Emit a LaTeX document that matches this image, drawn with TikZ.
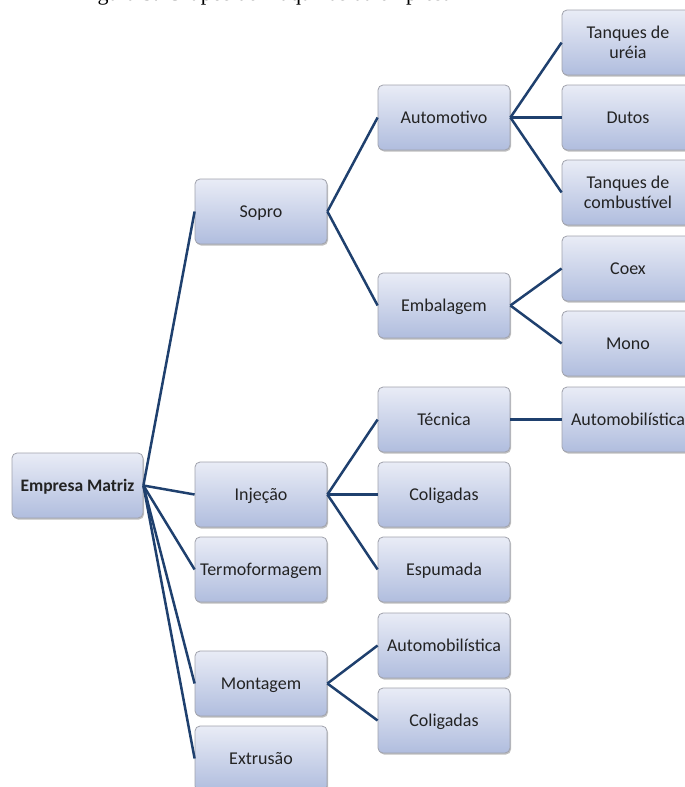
\documentclass[tikz,border=0pt]{standalone}
\usepackage{fontspec}
\setmainfont{Carlito}
\newfontfamily\capfont{Liberation Serif}
\usetikzlibrary{shadows}
\definecolor{linec}{RGB}{31,64,110}
\definecolor{boxtop}{RGB}{233,236,246}
\definecolor{boxbot}{RGB}{176,189,222}
\definecolor{boxdraw}{RGB}{160,162,172}
\definecolor{txt}{RGB}{35,35,35}
\begin{document}
\begin{tikzpicture}[x=1pt,y=-1pt,
  basebox/.style={rectangle, rounded corners=5pt, draw=boxdraw, line width=0.8pt,
    top color=boxtop, bottom color=boxbot, minimum width=132pt, minimum height=65pt,
    inner sep=0pt, align=center, text=txt, font=\fontsize{18}{20.5}\selectfont,
    drop shadow={shadow xshift=1pt, shadow yshift=-1.5pt, opacity=0.25, fill=black}},
  box/.style={basebox, text height=15pt, text depth=4pt},
  link/.style={draw=linec, line width=2.5pt}]
\useasboundingbox (0,0) rectangle (685,787);
\clip (0,0) rectangle (685,787);
\node[anchor=base west, inner sep=0pt, font=\capfont\fontsize{22}{26}\selectfont] (cap) at (79,0.8) {Figura 5: Grupos de máquinas da empresa};
% root
\node[box, font=\bfseries\fontsize{17.5}{21}\selectfont, minimum width=131pt] (em) at (77.5,485.5) {Empresa Matriz};
% level 1
\node[box] (sopro) at (261,211.5) {Sopro};
\node[box] (inj) at (261,494.5) {Injeção};
\node[box] (termo) at (261,569.5) {Termoformagem};
\node[box] (mont) at (261,683.5) {Montagem};
\node[box] (extr) at (261,758.5) {Extrusão};
% level 2
\node[box] (auto) at (444,117.5) {Automotivo};
\node[box] (emb) at (444,305.5) {Embalagem};
\node[box] (tec) at (444,419.5) {Técnica};
\node[box] (col1) at (444,494.5) {Coligadas};
\node[box] (esp) at (444,569.5) {Espumada};
\node[box] (autom) at (444,645.5) {Automobilística};
\node[box] (col2) at (444,720.5) {Coligadas};
% level 3
\node[basebox] (ure) at (628,42.5) {Tanques de\\uréia};
\node[box] (dut) at (628,117.5) {Dutos};
\node[basebox] (comb) at (628,192.5) {Tanques de\\combustível};
\node[box] (coex) at (628,268.5) {Coex};
\node[box] (mono) at (628,343.5) {Mono};
\node[box] (autom3) at (628,419.5) {Automobilística};
% connectors
\foreach \c in {sopro,inj,termo,mont,extr} \draw[link] (em.east) -- (\c.west);
\foreach \c in {auto,emb} \draw[link] (sopro.east) -- (\c.west);
\foreach \c in {tec,col1,esp} \draw[link] (inj.east) -- (\c.west);
\foreach \c in {autom,col2} \draw[link] (mont.east) -- (\c.west);
\foreach \c in {ure,dut,comb} \draw[link] (auto.east) -- (\c.west);
\foreach \c in {coex,mono} \draw[link] (emb.east) -- (\c.west);
\draw[link] (tec.east) -- (autom3.west);
\end{tikzpicture}
\end{document}
